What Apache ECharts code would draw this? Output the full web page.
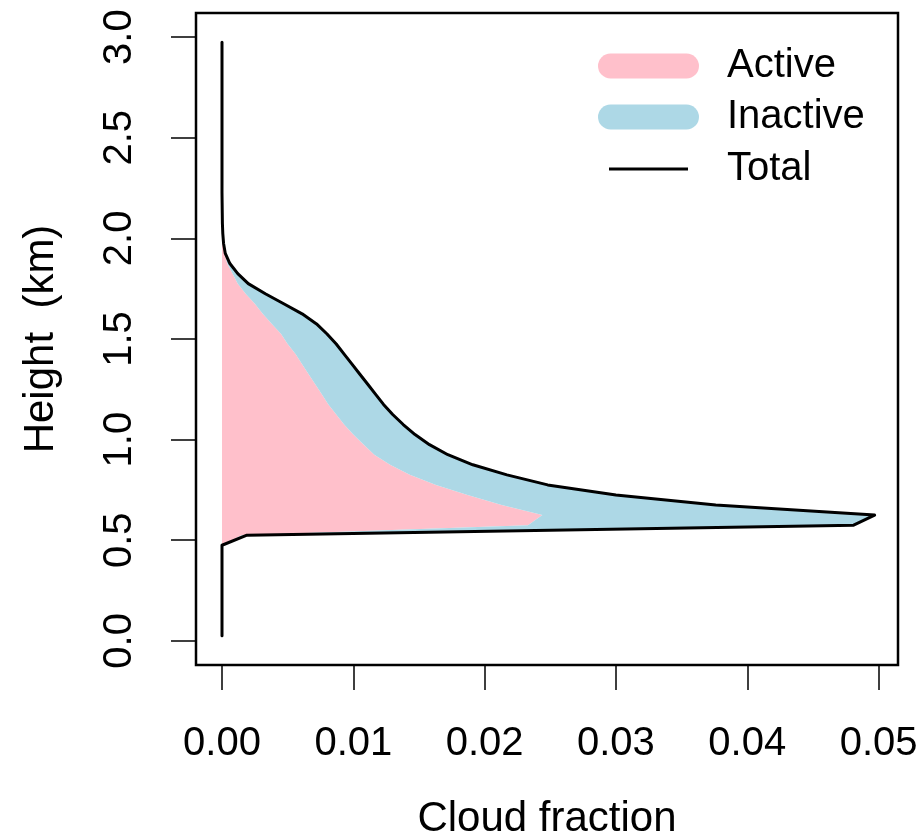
<!DOCTYPE html>
<html>
<head>
<meta charset="utf-8">
<script src="https://cdn.jsdelivr.net/npm/echarts@6/dist/echarts.min.js"></script>
<style>
  html, body { margin: 0; padding: 0; background: #fff; }
  #chart { width: 924px; height: 837px; }
</style>
</head>
<body>
<div id="chart"></div>
<script>
// Height levels (km)
const heights = [
  0.025, 0.075, 0.125, 0.175, 0.225, 0.275, 0.325, 0.375, 0.425, 0.475,
  0.525, 0.575, 0.625, 0.675, 0.725, 0.775, 0.825, 0.875, 0.925, 0.975,
  1.025, 1.075, 1.125, 1.175, 1.225, 1.275, 1.325, 1.375, 1.425, 1.475,
  1.525, 1.575, 1.625, 1.675, 1.725, 1.775, 1.825, 1.875, 1.925, 1.975,
  2.025, 2.075, 2.125, 2.175, 2.225, 2.275, 2.325, 2.375, 2.425, 2.475,
  2.525, 2.575, 2.625, 2.675, 2.725, 2.775, 2.825, 2.875, 2.925, 2.975
];
// Active cloud fraction at each level
const activeFrac = [
  0, 0, 0, 0, 0, 0, 0, 0, 0, 0,
  0.0015, 0.0233, 0.0244, 0.0213, 0.0187, 0.0163, 0.0143, 0.0128, 0.0116, 0.0108,
  0.0100, 0.0093, 0.0087, 0.0081, 0.0076, 0.0071, 0.0066, 0.0061, 0.0056, 0.0050,
  0.0045, 0.0038, 0.0031, 0.0025, 0.0018, 0.0012, 0.0008, 0.0004, 0.0002, 0.00005,
  0, 0, 0, 0, 0, 0, 0, 0, 0, 0,
  0, 0, 0, 0, 0, 0, 0, 0, 0, 0
];
// Total cloud fraction at each level
const totalFrac = [
  0, 0, 0, 0, 0, 0, 0, 0, 0, 0,
  0.0019, 0.0481, 0.0497, 0.0376, 0.0300, 0.0248, 0.0217, 0.0191, 0.0172, 0.0158,
  0.0147, 0.0138, 0.0130, 0.0123, 0.0117, 0.0111, 0.0105, 0.0099, 0.0093, 0.0087,
  0.0080, 0.0072, 0.0061, 0.0047, 0.0033, 0.0020, 0.0012, 0.0006, 0.00025, 0.00012,
  0.00006, 0.00003, 0.00002, 0.00001, 0, 0, 0, 0, 0, 0,
  0, 0, 0, 0, 0, 0, 0, 0, 0, 0
];
// Tick values
const xTicks = [0, 0.01, 0.02, 0.03, 0.04, 0.05];
const yTicks = [0, 0.5, 1, 1.5, 2, 2.5, 3];
const seriesNames = ['Active', 'Inactive', 'Total'];

const FONT = "'Liberation Sans', Arial, Helvetica, sans-serif";
const FS = 40;
const FS_TITLE = 42;

function bandPolygon(api, leftArr, rightArr) {
  const pts = [];
  for (let i = 0; i < heights.length; i++) {
    pts.push(api.coord([rightArr[i], heights[i]]));
  }
  for (let i = heights.length - 1; i >= 0; i--) {
    pts.push(api.coord([leftArr ? leftArr[i] : 0, heights[i]]));
  }
  return pts;
}

const capsule = 'path://M12.5,0H88.5A12.5,12.5,0,0,1,88.5,25H12.5A12.5,12.5,0,0,1,12.5,0Z';

const chart = echarts.init(document.getElementById('chart'), null, { renderer: 'canvas' });
chart.setOption({
  animation: false,
  backgroundColor: '#fff',
  textStyle: { fontFamily: FONT },
  grid: {
    left: 196, right: 26, top: 13, bottom: 172,
    containLabel: false, outerBoundsMode: 'none',
    show: true, borderColor: '#000', borderWidth: 2.5, backgroundColor: 'transparent'
  },
  legend: [
    {
      data: [
        { name: seriesNames[0], icon: capsule },
        { name: seriesNames[1], icon: capsule }
      ],
      orient: 'vertical', left: 598, top: 46, padding: 0,
      itemWidth: 101, itemHeight: 25, itemGap: 11,
      selectedMode: false,
      textStyle: { fontSize: FS, lineHeight: 40, color: '#000', fontFamily: FONT, padding: [0, 0, 0, 23] }
    },
    {
      data: [{ name: seriesNames[2], icon: 'rect' }],
      orient: 'vertical', left: 609, top: 149, padding: 0,
      itemWidth: 79, itemHeight: 3,
      selectedMode: false,
      textStyle: { fontSize: FS, lineHeight: 40, color: '#000', fontFamily: FONT, padding: [0, 0, 0, 34] }
    }
  ],
  xAxis: {
    type: 'value', min: -0.00198, max: 0.05148,
    name: 'Cloud fraction', nameLocation: 'middle', nameGap: 133,
    nameTextStyle: { fontSize: FS_TITLE, color: '#000', fontFamily: FONT },
    splitLine: { show: false },
    axisLine: { show: false, onZero: false },
    axisTick: { show: true, inside: false, length: 25, customValues: xTicks, lineStyle: { color: '#000', width: 1.5 } },
    axisLabel: { customValues: xTicks, margin: 59, fontSize: FS, color: '#000', fontFamily: FONT,
      formatter: v => v.toFixed(2) }
  },
  yAxis: {
    type: 'value', min: -0.12, max: 3.12,
    name: 'Height  (km)', nameLocation: 'middle', nameGap: 134, nameRotate: 90,
    nameTextStyle: { fontSize: FS_TITLE, color: '#000', fontFamily: FONT },
    splitLine: { show: false },
    axisLine: { show: false, onZero: false },
    axisTick: { show: true, inside: false, length: 25, customValues: yTicks, lineStyle: { color: '#000', width: 1.5 } },
    axisLabel: { customValues: yTicks, rotate: 90, margin: 56, fontSize: FS, color: '#000', fontFamily: FONT,
      formatter: v => v.toFixed(1) }
  },
  series: [
    {
      name: seriesNames[0], type: 'custom', coordinateSystem: 'cartesian2d',
      itemStyle: { color: '#FFC0CB' },
      data: [[0, 0]],
      renderItem: (params, api) => ({
        type: 'polygon',
        shape: { points: bandPolygon(api, null, activeFrac) },
        style: { fill: '#FFC0CB' }
      })
    },
    {
      name: seriesNames[1], type: 'custom', coordinateSystem: 'cartesian2d',
      itemStyle: { color: '#ADD8E6' },
      data: [[0, 0]],
      renderItem: (params, api) => ({
        type: 'polygon',
        shape: { points: bandPolygon(api, activeFrac, totalFrac) },
        style: { fill: '#ADD8E6' }
      })
    },
    {
      name: seriesNames[2], type: 'line',
      color: '#000',
      showSymbol: false, symbol: 'none',
      lineStyle: { color: '#000', width: 3, cap: 'round', join: 'round' },
      itemStyle: { color: '#000' },
      data: heights.map((h, i) => [totalFrac[i], h]),
      z: 5
    }
  ]
});
</script>
</body>
</html>
